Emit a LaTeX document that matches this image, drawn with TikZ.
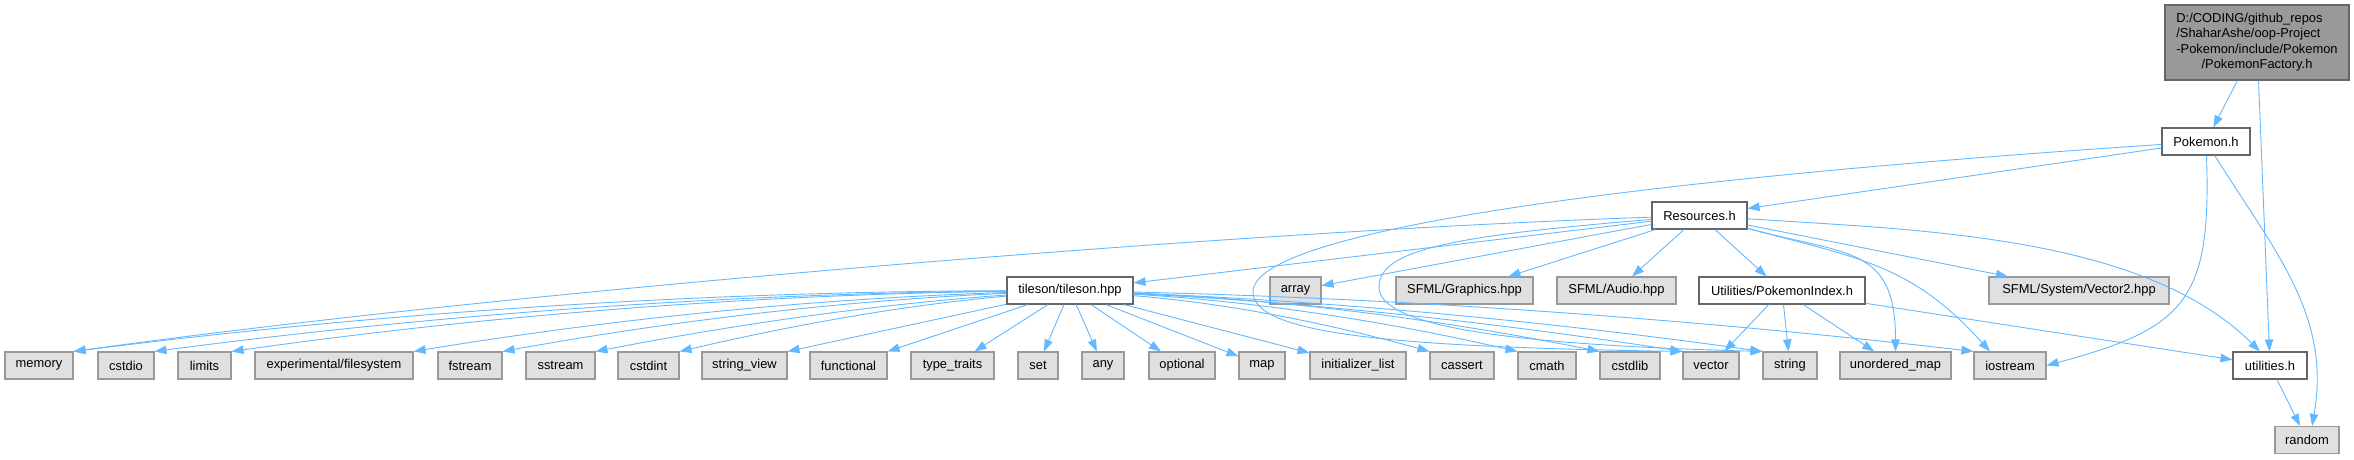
\documentclass[tikz,border=0pt]{standalone}
\usepackage{fontspec}
\setmainfont{Liberation Sans}
\usetikzlibrary{arrows.meta,calc}
\definecolor{EdgeBlue}{RGB}{99,184,255}
\definecolor{SysFill}{RGB}{224,224,224}
\definecolor{SysLine}{RGB}{153,153,153}
\definecolor{UserLine}{RGB}{102,102,102}
\definecolor{RootFill}{RGB}{153,153,153}

\begin{document}
\begin{tikzpicture}[x=1pt,y=1pt,>={Triangle[length=12pt,width=8.5pt]},
  every node/.style={font=\fontsize{12.9}{15.5}\selectfont,inner sep=0pt,minimum height=27pt},
  sysbox/.style={draw=SysLine,fill=SysFill,line width=1.1pt},
  userbox/.style={draw=UserLine,fill=white,line width=1.1pt},
  edge/.style={->,draw=EdgeBlue,line width=0.9pt}]
  \useasboundingbox (0,0) rectangle (2354,-459);

  % header files of the project
  \node[userbox,fill=RootFill,minimum width=184pt,minimum height=75pt] (root) at (2257,-42.5)
    {\begin{tabular}{@{}l@{}}D:/CODING/github\_repos\\/ShaharAshe/oop-Project\\-Pokemon/include/Pokemon\\\multicolumn{1}{@{}c@{}}{/PokemonFactory.h}\end{tabular}};
  \node[userbox,minimum width=88pt] (pokemon) at (2206,-141.5) {Pokemon.h};
  \node[userbox,minimum width=95pt] (resources) at (1699.5,-215.5) {Resources.h};
  \node[userbox,minimum width=126pt] (tileson) at (1070,-290.5) {tileson/tileson.hpp};
  \node[sysbox,minimum width=51pt] (array) at (1295.5,-290.5) {array};
  \node[sysbox,minimum width=137pt] (sfgraphics) at (1464.5,-290.5) {SFML/Graphics.hpp};
  \node[sysbox,minimum width=119pt] (sfaudio) at (1616.5,-290.5) {SFML/Audio.hpp};
  \node[userbox,minimum width=166pt] (pkindex) at (1782,-290.5) {Utilities/PokemonIndex.h};
  \node[sysbox,minimum width=180pt] (sfvector) at (2079,-290.5) {SFML/System/Vector2.hpp};
  \node[userbox,minimum width=74pt] (utilities) at (2270,-365.5) {utilities.h};
  \node[sysbox,minimum width=64pt] (random) at (2307,-440) {random};

  % standard headers, bottom row
  \foreach \nm/\lbl/\cx/\bw in {memory/memory/39/68, cstdio/cstdio/126/56, limits/limits/204.5/53,
      expfs/{experimental/filesystem}/334/158, fstream/fstream/470/64, sstream/sstream/560.5/69,
      cstdint/cstdint/648.5/61, strview/string\_view/744.5/85, functional/functional/848.5/77,
      typetraits/type\_traits/952.5/83, set/set/1038/40, any/any/1103/42, optional/optional/1182/66,
      map/map/1262/46, initlist/initializer\_list/1358/96, cassert/cassert/1462/64,
      cmath/cmath/1547/58, cstdlib/cstdlib/1630/60, vector/vector/1711/56, string/string/1790/54,
      umap/unordered\_map/1895.5/111, iostream/iostream/2010/72}
    \node[sysbox,minimum width=\bw pt] (\nm) at (\cx,-365.5) {\lbl};

  % includes of PokemonFactory.h and Pokemon.h
  \draw[edge] (root) -- (pokemon);
  \draw[edge] (root) -- (utilities);
  \draw[edge] (pokemon) -- (resources);
  \draw[edge] (pokemon) .. controls (1700,-175) and (1253,-225) .. (1253,-292)
    .. controls (1253,-335) and (1400,-347) .. (vector.north west);
  \draw[edge] (pokemon) to[out=-88,in=15,looseness=1.4] (iostream.east);
  \draw[edge] (pokemon) to[out=-58,in=80] ([xshift=5pt]random.north);

  % includes of Resources.h
  \draw[edge] (resources) .. controls (1219,-232) and (502,-292) .. (memory.north east);
  \draw[edge] (resources) -- (tileson);
  \draw[edge] (resources) -- (array);
  \draw[edge] (resources) .. controls (1450,-236) and (1379,-250) .. (1379,-287)
    .. controls (1379,-328) and (1520,-345) .. (string.north west);
  \draw[edge] (resources) -- (sfgraphics);
  \draw[edge] (resources) -- (sfaudio);
  \draw[edge] (resources) -- (pkindex);
  \draw[edge] (resources) -- (sfvector);
  \draw[edge] (resources) to[out=-15,in=90,looseness=1.4] (umap);
  \draw[edge] (resources) to[out=-15,in=132,looseness=1.1] ([xshift=-20pt]iostream.north);
  \draw[edge] (resources) .. controls (1914,-230) and (2142,-234) .. ([xshift=-10pt]utilities.north);

  % includes of tileson.hpp
  \foreach \tgt/\dy in {memory/19, cstdio/17, limits/16, expfs/12, fstream/10, sstream/6, cstdint/5}
    \draw[edge] (tileson) .. controls ($(tileson.west)!0.33!(\tgt.north east)+(0,\dy)$)
      and ($(tileson.west)!0.67!(\tgt.north east)+(0,\dy)$) .. (\tgt.north east);
  \draw[edge] (tileson) -- (strview.north east);
  \draw[edge] (tileson) -- (functional.north east);
  \foreach \tgt in {typetraits, set, any, optional, map, initlist}
    \draw[edge] (tileson) -- (\tgt);
  \foreach \tgt/\dy in {cassert/7, cmath/9, cstdlib/11, vector/8, string/9, iostream/12}
    \draw[edge] (tileson) .. controls ($(tileson.east)!0.33!(\tgt.north west)+(0,\dy)$)
      and ($(tileson.east)!0.67!(\tgt.north west)+(0,\dy)$) .. (\tgt.north west);

  % includes of PokemonIndex.h and utilities.h
  \draw[edge] (pkindex) -- (vector);
  \draw[edge] (pkindex) -- (string);
  \draw[edge] (pkindex) -- (umap);
  \draw[edge] (pkindex) -- (utilities);
  \draw[edge] (utilities) -- (random);
\end{tikzpicture}
\end{document}
